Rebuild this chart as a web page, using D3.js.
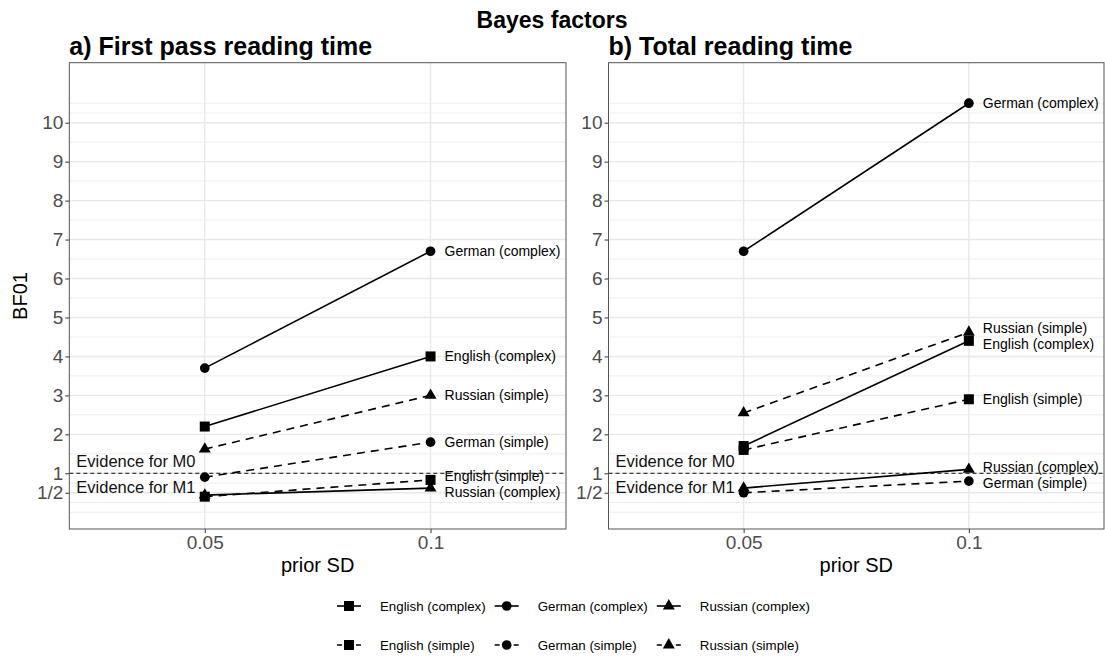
<!DOCTYPE html>
<html>
<head>
<meta charset="utf-8">
<script src="https://cdn.jsdelivr.net/npm/d3@7"></script>
<style>
  body { margin: 0; background: #fff; }
  svg { display: block; font-family: "Liberation Sans", Arial, sans-serif; }
</style>
</head>
<body>
<svg id="chart" width="1105" height="660"></svg>
<script>
var priorSD = ["0.05", "0.1"]
var seriesNames = ["English (complex)", "German (complex)", "Russian (complex)",
                   "English (simple)", "German (simple)", "Russian (simple)"]
var seriesLang = ["English", "German", "Russian", "English", "German", "Russian"]
var seriesType = ["complex", "complex", "complex", "simple", "simple", "simple"]

// BF01 at prior SD 0.05 and 0.1, same order as seriesNames
var firstPassBF = [[2.2, 4.0], [3.7, 6.7], [0.44, 0.62], [0.40, 0.83], [0.9, 1.8], [1.62, 3.0]]
var totalBF = [[1.7, 4.4], [6.7, 10.5], [0.62, 1.1], [1.6, 2.9], [0.5, 0.8], [2.55, 4.62]]

var yTicks = [0.5, 1, 2, 3, 4, 5, 6, 7, 8, 9, 10]
var yTickLabels = ["1/2", "1", "2", "3", "4", "5", "6", "7", "8", "9", "10"]
var yMinorGrid = [0, 0.25, 0.75, 1.5, 2.5, 3.5, 4.5, 5.5, 6.5, 7.5, 8.5, 9.5, 10.25, 10.5]
var evidenceLabels = ["Evidence for M0", "Evidence for M1"]
var evidenceY = [1.32, 0.63]

var svg = d3.select("#chart")
var shapeOf = {English: d3.symbolSquare, German: d3.symbolCircle, Russian: d3.symbolTriangle}
var sizeOf = {English: 100, German: 74, Russian: 62}

svg.append("text")
   .attr("x", 552).attr("y", 28)
   .attr("text-anchor", "middle")
   .style("font-weight", "bold").style("font-size", "23px")
   .text("Bayes factors")

var drawPanel = function(opts){
  var g = svg.append("g")
  var x = d3.scalePoint().domain(priorSD).range([opts.left, opts.right]).padding(0.6)
  var y = d3.scaleLinear().domain([-0.43, 11.54]).range([529, 62.7])

  g.append("text")
   .attr("x", opts.left).attr("y", 55)
   .style("font-weight", "bold").style("font-size", "25px")
   .text(opts.title)

  g.selectAll(".minor").data(yMinorGrid).enter().append("line")
   .attr("x1", opts.left).attr("x2", opts.right)
   .attr("y1", function(d){ return y(d) }).attr("y2", function(d){ return y(d) })
   .style("stroke", "#ededed").style("stroke-width", 1)

  g.selectAll(".major").data(yTicks).enter().append("line")
   .attr("x1", opts.left).attr("x2", opts.right)
   .attr("y1", function(d){ return y(d) }).attr("y2", function(d){ return y(d) })
   .style("stroke", "#e8e8e8").style("stroke-width", 1.4)

  g.selectAll(".vgrid").data(priorSD).enter().append("line")
   .attr("x1", function(d){ return x(d) }).attr("x2", function(d){ return x(d) })
   .attr("y1", 62.7).attr("y2", 529)
   .style("stroke", "#e8e8e8").style("stroke-width", 1.4)

  // axes
  var yAxis = g.append("g").attr("transform", "translate(" + opts.left + ",0)")
     .call(d3.axisLeft(y).tickValues(yTicks).tickSize(4).tickPadding(2)
           .tickFormat(function(d, i){ return yTickLabels[i] }))
  var xAxis = g.append("g").attr("transform", "translate(0,529)")
     .call(d3.axisBottom(x).tickSize(4).tickPadding(3))
  ;[yAxis, xAxis].forEach(function(a){
    a.select(".domain").remove()
    a.selectAll(".tick line").style("stroke", "#333")
    a.selectAll(".tick text").style("fill", "#4d4d4d").style("font-size", "19px")
      .style("font-family", "Liberation Sans, Arial, sans-serif")
  })

  g.append("text")
   .attr("x", (opts.left + opts.right) / 2).attr("y", 572)
   .attr("text-anchor", "middle").style("font-size", "20px")
   .text("prior SD")

  // reference line at BF = 1
  g.append("line")
   .attr("x1", opts.left).attr("x2", opts.right)
   .attr("y1", y(1)).attr("y2", y(1))
   .style("stroke", "#111").style("stroke-width", 1).style("stroke-dasharray", "4,3")

  g.selectAll(".evidence").data(evidenceLabels).enter().append("text")
   .attr("x", opts.left + 7)
   .attr("y", function(d, i){ return y(evidenceY[i]) })
   .attr("dy", "0.35em").style("font-size", "16.5px").style("fill", "#111")
   .text(function(d){ return d })

  var line = d3.line().x(function(d, i){ return x(priorSD[i]) }).y(function(d){ return y(d) })
  g.selectAll(".series").data(opts.values).enter().append("path")
   .attr("d", function(d){ return line(d) })
   .style("fill", "none").style("stroke", "#000").style("stroke-width", 1.6)
   .style("stroke-dasharray", function(d, i){ return seriesType[i] == "simple" ? "8,6" : null })

  opts.values.forEach(function(vals, s){
    g.selectAll(".pt" + s).data(vals).enter().append("path")
     .attr("transform", function(d, i){ return "translate(" + x(priorSD[i]) + "," + y(d) + ")" })
     .attr("d", d3.symbol().type(shapeOf[seriesLang[s]]).size(sizeOf[seriesLang[s]]))
     .style("fill", "#000")
  })

  // end labels, pushed apart where they collide
  var labels = opts.values.map(function(v, s){ return {name: seriesNames[s], y: y(v[1])} })
  var sorted = labels.slice().sort(function(a, b){ return a.y - b.y })
  for (var k = 0; k < 50; k++) {
    for (var j = 1; j < sorted.length; j++) {
      var gap = sorted[j].y - sorted[j-1].y
      if (gap < 16) { sorted[j-1].y -= (16 - gap) / 2; sorted[j].y += (16 - gap) / 2 }
    }
  }
  g.selectAll(".lab").data(labels).enter().append("text")
   .attr("x", x(priorSD[1]) + 14)
   .attr("y", function(d){ return d.y })
   .attr("dy", "0.35em").style("font-size", "14px")
   .text(function(d){ return d.name })

  g.append("rect")
   .attr("x", opts.left).attr("y", 62.7)
   .attr("width", opts.right - opts.left).attr("height", 529 - 62.7)
   .style("fill", "none").style("stroke", "#555").style("stroke-width", 1)
}

drawPanel({left: 69.3, right: 566, title: "a) First pass reading time", values: firstPassBF})
drawPanel({left: 608.5, right: 1104, title: "b) Total reading time", values: totalBF})

svg.append("text")
   .attr("transform", "translate(27,296) rotate(-90)")
   .attr("text-anchor", "middle").style("font-size", "20px")
   .text("BF01")

// legend: two rows (complex / simple), three aligned columns
var legend = svg.append("g").attr("transform", "translate(337,0)")
var legendRows = ["complex", "simple"]
var legendY = [606, 645]
var items = seriesNames.map(function(name, s){
  var row = legendRows.indexOf(seriesType[s])
  var item = legend.append("g")
  item.append("line").attr("x1", 0).attr("x2", 24).attr("y1", 0).attr("y2", 0)
      .style("stroke", "#000").style("stroke-width", 1.6)
      .style("stroke-dasharray", row == 1 ? "5,14,5" : null)
  item.append("path").attr("transform", "translate(12,0)")
      .attr("d", d3.symbol().type(shapeOf[seriesLang[s]]).size(sizeOf[seriesLang[s]]))
  var t = item.append("text").attr("x", 43).attr("dy", "0.35em")
      .style("font-size", "13.3px").text(name)
  return {g: item, row: row, col: s % 3, w: t.node().getComputedTextLength()}
})
var colX = [0], cx = 0
for (var c = 0; c < 2; c++) {
  var w = d3.max(items.filter(function(d){ return d.col == c }), function(d){ return d.w })
  cx += 43 + w + 9
  colX.push(cx)
}
items.forEach(function(d){
  d.g.attr("transform", "translate(" + colX[d.col] + "," + legendY[d.row] + ")")
})
</script>
</body>
</html>
